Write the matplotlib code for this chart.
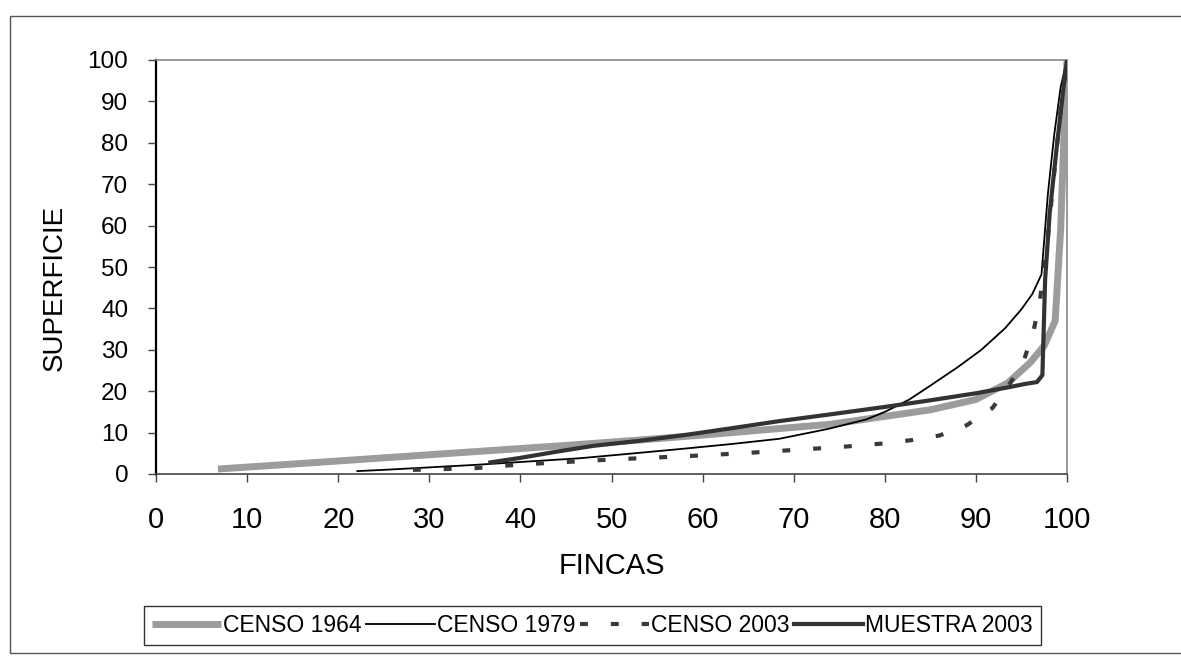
import matplotlib
matplotlib.use("Agg")
import matplotlib.pyplot as plt
from matplotlib.patches import Rectangle

plt.rcParams['font.family'] = ['Liberation Sans', 'DejaVu Sans']

# ---- data ----
x_1964 = [6.8, 15, 25, 35, 45, 53, 60, 68, 74, 79, 85, 90, 93.5, 96, 97.5, 98.7, 99.3, 99.8, 100]
y_1964 = [1.2, 2.4, 3.9, 5.4, 6.9, 8.2, 9.4, 10.9, 12.0, 13.6, 15.5, 18.0, 22.0, 27, 31, 37, 59, 90, 100]

x_1979 = [22.1, 25, 30, 35, 40, 46.5, 52, 57.4, 63, 68.4, 73.8, 78, 80, 82.7, 85.1, 88, 90.6,
          93.2, 95, 96.2, 97.2, 97.9, 98.6, 99.3, 100]
y_1979 = [0.7, 1.0, 1.6, 2.2, 2.9, 3.8, 4.9, 6.0, 7.2, 8.5, 10.9, 13.2, 15.0, 18.0, 21.5, 25.8, 30.0,
          35.2, 39.8, 43.5, 48.2, 67.6, 82, 93.4, 100]

x_2003 = [28.2, 35, 40, 45, 50, 55, 60, 65, 70, 75, 80, 83, 86, 89, 91.8, 93.5, 95.2, 96.3,
          97, 97.8, 98.7, 99.4, 100]
y_2003 = [1.0, 1.4, 2.3, 2.9, 3.5, 4.0, 4.5, 5.1, 5.8, 6.5, 7.4, 8.2, 9.3, 11.8, 15.9, 21, 27,
          34.3, 41.5, 55, 75, 90, 100]

x_muestra = [36.7, 40, 44, 48, 53, 58, 63, 68.5, 74, 80, 85, 90, 93.7, 95.5, 96.7, 97.3, 97.6,
             98.1, 98.9, 99.6, 100]
y_muestra = [2.8, 3.9, 5.4, 6.8, 8.0, 9.4, 11.0, 12.8, 14.4, 16.2, 17.8, 19.5, 21.0, 21.8, 22.2,
             23.9, 47, 63, 79.5, 93, 100]

series_labels = ['CENSO 1964', 'CENSO 1979', 'CENSO 2003', 'MUESTRA 2003']
x_ticks = list(range(0, 101, 10))
y_ticks = list(range(0, 101, 10))
x_title = 'FINCAS'
y_title = 'SUPERFICIE'

# ---- figure ----
W, H = 1181, 656
fig = plt.figure(figsize=(W / 100, H / 100), dpi=100)

def fx(px):
    return px / W

def fy(py):
    return (H - py) / H

# outer frame (right side runs off the picture)
fig.add_artist(Rectangle((fx(10), fy(653)), 1.2, fy(16) - fy(653), transform=fig.transFigure,
                         fill=False, edgecolor='#555555', linewidth=1.0))

ax = fig.add_axes([fx(156), fy(474), fx(1067) - fx(156), fy(60) - fy(474)])

ax.plot(x_1964, y_1964, color='#9c9c9c', linewidth=5, solid_capstyle='butt', label=series_labels[0], zorder=3)
ax.plot(x_1979, y_1979, color='black', linewidth=1.3, label=series_labels[1], zorder=4)
ax.plot(x_2003, y_2003, color='#3a3a3a', linewidth=3, linestyle=(0, (1.9, 5.5)),
        dash_capstyle='butt', label=series_labels[2], zorder=4)
ax.plot(x_muestra, y_muestra, color='#333333', linewidth=3, label=series_labels[3], zorder=5)

ax.set_xlim(0, 100)
ax.set_ylim(0, 100)
ax.set_xticks(x_ticks)
ax.set_yticks(y_ticks)
ax.tick_params(axis='x', direction='out', length=6, width=1, pad=17, labelsize=21, color='#444444')
ax.tick_params(axis='y', direction='out', length=6, width=1, pad=14, labelsize=17.5, color='#444444')

ax.spines['left'].set_color('black')
ax.spines['left'].set_linewidth(1.6)
ax.spines['bottom'].set_color('#444444')
ax.spines['bottom'].set_linewidth(1.2)
for s in ('top', 'right'):
    ax.spines[s].set_color('#888888')
    ax.spines[s].set_linewidth(1.2)

fig.text(fx(612), fy(566), x_title, ha='center', va='center', fontsize=21)
fig.text(fx(55), fy(288), y_title, ha='center', va='center', rotation=90, fontsize=20)

handles, labels = ax.get_legend_handles_labels()
leg = fig.legend(handles, labels, loc='center', bbox_to_anchor=(fx(592.5), fy(625.5)),
                 ncol=4, fontsize=16.5, frameon=True, fancybox=False, edgecolor='black',
                 handlelength=3.0, handletextpad=0.1, columnspacing=0.2, borderpad=0.35,
                 borderaxespad=0)
leg.get_frame().set_linewidth(1.0)

fig.savefig('out.png', dpi=100)
